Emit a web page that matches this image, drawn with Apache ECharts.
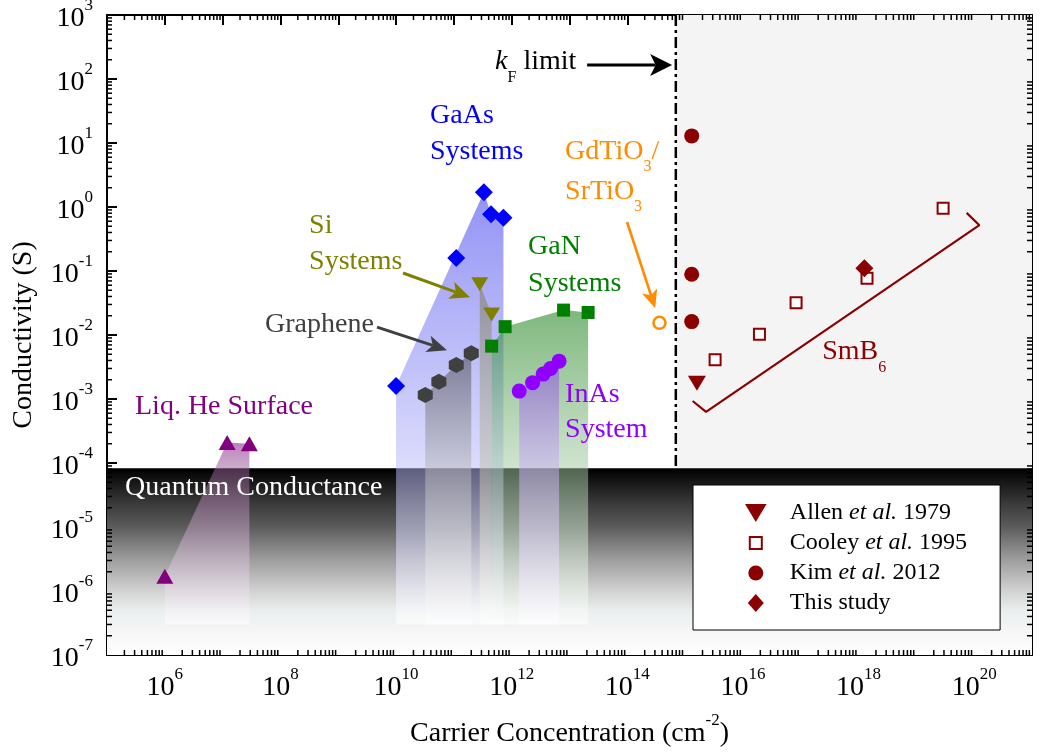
<!DOCTYPE html>
<html>
<head>
<meta charset="utf-8">
<script src="https://cdn.jsdelivr.net/npm/echarts@6/dist/echarts.min.js"></script>
<style>
  html, body { margin: 0; padding: 0; background: #fff; }
  #chart { width: 1045px; height: 753px; }
</style>
</head>
<body>
<div id="chart"></div>
<script>
const FONT = '"Liberation Serif", "Times New Roman", serif';

// ---- sheet carrier concentration n (cm^-2) and conductivity (S) per system ----
const gaasN = [1.0e10, 1.1e11, 3.3e11, 4.4e11, 7.2e11];
const gaasS = [1.6e-3, 0.16, 1.7, 0.77, 0.68];
const siN = [2.8e11, 4.5e11];
const siS = [0.062, 0.021];
const grapheneN = [3.2e10, 5.5e10, 1.1e11, 2.0e11];
const grapheneS = [1.15e-3, 1.86e-3, 3.4e-3, 5.2e-3];
const ganN = [4.5e11, 7.7e11, 7.9e12, 2.1e13];
const ganS = [6.7e-3, 0.0135, 0.0245, 0.0225];
const inasN = [1.35e12, 2.3e12, 3.5e12, 4.7e12, 6.6e12];
const inasS = [1.33e-3, 1.8e-3, 2.45e-3, 3.0e-3, 3.9e-3];
const heN = [1.0e6, 1.2e7, 2.9e7];
const heS = [1.7e-6, 2.1e-4, 2.0e-4];
const gdtoN = [3.6e14];
const gdtoS = [0.0155];

// SmB6 surface data
const allenN = [1.6e15];
const allenS = [1.76e-3];
const cooleyN = [3.3e15, 1.93e16, 8.3e16, 1.4e18, 2.9e19];
const cooleyS = [4.1e-3, 0.0103, 0.032, 0.077, 0.955];
const kimN = [1.3e15, 1.3e15, 1.3e15];
const kimS = [12.9, 0.089, 0.0162];
const thisStudyN = [1.26e18];
const thisStudyS = [0.11];
const smb6RangeN = [1.35e15, 2.3e15, 1.23e20, 7.4e19];
const smb6RangeS = [9.3e-4, 6.3e-4, 0.52, 0.81];

// reference levels
const kFLimitN = 6.9e14;     // kF limit
const quantumS = 8.3e-5;     // quantum conductance
const fadeFloorS = 3e-7;     // where the shaded columns fade out

// axis extents in decades
const xDecades = [5, 21];
const yDecades = [-7, 3];

const lg = Math.log10;
const toXY = (ns, ss) => ns.map((n, i) => [lg(n), lg(ss[i])]);

// ---- shaded areas under each material system ----
const regions = [
  { n: [gaasN[0], gaasN[2], gaasN[3], gaasN[4]], s: [gaasS[0], gaasS[2], gaasS[3], gaasS[4]],
    top: 'rgba(40,40,235,0.5)', mid: 'rgba(186,186,250,0.5)' },
  { n: grapheneN, s: grapheneS, top: 'rgba(60,60,60,0.5)', mid: 'rgba(182,182,186,0.5)' },
  { n: siN, s: siS, top: 'rgba(120,120,70,0.5)', mid: 'rgba(190,190,172,0.5)' },
  { n: ganN, s: ganS, top: 'rgba(20,125,20,0.55)', mid: 'rgba(160,200,160,0.5)' },
  { n: inasN, s: inasS, top: 'rgba(140,60,235,0.5)', mid: 'rgba(200,172,245,0.5)' },
  { n: heN, s: heS, top: 'rgba(128,0,128,0.5)', mid: 'rgba(150,95,150,0.5)' }
];

// ---- text annotations (anchor = left edge, vertical centre) ----
// sub: subscript drop below the main text centre
const notes = [
  { text: 'GaAs\nSystems', at: [3.87e10, 13.8], color: '#0000ff', lh: 36 },
  { text: 'Si\nSystems', at: [3.13e8, 0.264], color: '#808000', lh: 36 },
  { text: 'GaN\nSystems', at: [1.92e12, 0.122], color: '#008000', lh: 37 },
  { text: 'Graphene', at: [5.42e7, 0.0143], color: '#404040', lh: 28 },
  { text: 'InAs\nSystem', at: [8.39e12, 6.15e-4], color: '#8f00ff', lh: 35 },
  { text: 'Liq. He Surface', at: [3.05e5, 7.5e-4], color: '#800080', lh: 28 },
  { text: 'Quantum Conductance', at: [2.05e5, 4.07e-5], color: '#ffffff', lh: 28 },
  { text: '{m|GdTiO}{s|3}{m|/}\n{m|SrTiO}{s|3}', at: [8.39e12, 3.52], color: '#ff8c00', lh: 40, sub: 15 },
  { text: '{m|SmB}{s|6}', at: [2.35e17, 5.42e-3], color: '#8b0000', lh: 28, sub: 16 },
  { text: '{k|k}{s|F}{m| limit}', at: [5.16e11, 187.5], color: '#000000', lh: 28, sub: 16 }
];

// ---- annotation arrows ----
const arrows = [
  { from: [2.02e13, 165], to: [5.96e14, 165], color: '#000000', width: 3, head: [22, 11] },
  { from: [1.32e10, 0.093], to: [1.9e11, 0.039], color: '#808000', width: 3, head: [20, 9] },
  { from: [4.69e9, 0.0133], to: [7.6e10, 5.8e-3], color: '#404040', width: 3, head: [20, 8.5] },
  { from: [9.9e13, 0.583], to: [3.03e14, 0.0264], color: '#ff8c00', width: 2.6, head: [18, 8] }
];

function richFor(note) {
  const base = { fill: note.color, fontFamily: FONT, fontSize: 28, lineHeight: note.lh };
  return {
    m: base,
    k: Object.assign({}, base, { fontStyle: 'italic' }),
    s: {
      fill: note.color, fontFamily: FONT, fontSize: 16, lineHeight: 16, verticalAlign: 'top',
      padding: [note.lh / 2 + note.sub - 8, 0, 0, 0]
    }
  };
}

function renderBackdrop(params, api) {
  const cs = params.coordSys;
  const xK = api.coord([lg(kFLimitN), yDecades[0]])[0];
  const yQ = api.coord([xDecades[0], lg(quantumS)])[1];
  const yB = cs.y + cs.height;
  const band = new echarts.graphic.LinearGradient(0, yQ, 0, yB, [
    { offset: 0, color: '#000000' },
    { offset: 0.19, color: '#3a3a3a' },
    { offset: 0.31, color: '#5a5a5a' },
    { offset: 0.48, color: '#9a9a9a' },
    { offset: 0.65, color: '#d0d0d0' },
    { offset: 0.76, color: '#eaeeee' },
    { offset: 0.9, color: '#f8f8f8' },
    { offset: 1, color: '#ffffff' }
  ], true);
  return {
    type: 'group',
    children: [
      { type: 'rect', shape: { x: xK, y: cs.y, width: cs.x + cs.width - xK, height: yQ - cs.y }, style: { fill: '#f4f4f4' } },
      { type: 'rect', shape: { x: cs.x, y: yQ, width: cs.width, height: yB - yQ }, style: { fill: band } },
      { type: 'line', shape: { x1: xK, y1: cs.y, x2: xK, y2: yQ }, style: { stroke: '#000', lineWidth: 2.5, lineDash: [11, 4, 3, 4] } }
    ]
  };
}

function renderRegion(params, api) {
  const r = regions[params.dataIndex];
  const pts = r.n.map((n, i) => api.coord([lg(n), lg(r.s[i])]));
  const first = r.n[0], last = r.n[r.n.length - 1];
  pts.push(api.coord([lg(last), lg(fadeFloorS)]));
  pts.push(api.coord([lg(first), lg(fadeFloorS)]));
  const yTop = Math.min.apply(null, pts.map(p => p[1]));
  const yBot = pts[pts.length - 1][1];
  const yQ = api.coord([lg(first), lg(quantumS)])[1];
  const off = Math.min(1, Math.max(0, (yQ - yTop) / (yBot - yTop)));
  return {
    type: 'polygon',
    shape: { points: pts },
    style: {
      fill: new echarts.graphic.LinearGradient(0, yTop, 0, yBot, [
        { offset: 0, color: r.top },
        { offset: off, color: r.mid },
        { offset: 1, color: 'rgba(255,255,255,0.6)' }
      ], true)
    }
  };
}

function renderArrow(params, api) {
  const a = arrows[params.dataIndex];
  const p1 = api.coord([lg(a.from[0]), lg(a.from[1])]);
  const p2 = api.coord([lg(a.to[0]), lg(a.to[1])]);
  const dx = p2[0] - p1[0], dy = p2[1] - p1[1];
  const len = Math.sqrt(dx * dx + dy * dy);
  const ux = dx / len, uy = dy / len, nx = -uy, ny = ux;
  const hl = a.head[0], hw = a.head[1], notch = hl * 0.25;
  const bx = p2[0] - ux * hl, by = p2[1] - uy * hl;
  const mx = p2[0] - ux * (hl - notch), my = p2[1] - uy * (hl - notch);
  return {
    type: 'group',
    children: [
      { type: 'line', shape: { x1: p1[0], y1: p1[1], x2: mx, y2: my }, style: { stroke: a.color, lineWidth: a.width } },
      { type: 'polygon', shape: { points: [[p2[0], p2[1]], [bx + nx * hw, by + ny * hw], [mx, my], [bx - nx * hw, by - ny * hw]] }, style: { fill: a.color } }
    ]
  };
}

function renderNote(params, api) {
  const a = notes[params.dataIndex];
  const p = api.coord([lg(a.at[0]), lg(a.at[1])]);
  const style = {
    text: a.text, x: p[0], y: p[1],
    fill: a.color, fontFamily: FONT, fontSize: 28, lineHeight: a.lh,
    textAlign: 'left', textVerticalAlign: 'middle'
  };
  if (a.sub != null) style.rich = richFor(a);
  return { type: 'text', style: style };
}

// log-spaced minor ticks on all four sides of the frame
function renderMinorTicks(params, api) {
  const cs = params.coordSys;
  const left = cs.x, right = cs.x + cs.width, top = cs.y, bottom = cs.y + cs.height;
  const len = 5;
  const kids = [];
  const st = () => ({ stroke: '#000', lineWidth: 1.5 });
  for (let d = xDecades[0]; d < xDecades[1]; d++) {
    for (let k = 2; k < 10; k++) {
      const x = api.coord([d + lg(k), yDecades[0]])[0];
      kids.push({ type: 'line', shape: { x1: x, y1: bottom, x2: x, y2: bottom - len }, style: st() });
      kids.push({ type: 'line', shape: { x1: x, y1: top, x2: x, y2: top + len }, style: st() });
    }
  }
  for (let d = yDecades[0]; d < yDecades[1]; d++) {
    for (let k = 2; k < 10; k++) {
      const y = api.coord([xDecades[0], d + lg(k)])[1];
      kids.push({ type: 'line', shape: { x1: left, y1: y, x2: left + len, y2: y }, style: st() });
      kids.push({ type: 'line', shape: { x1: right, y1: y, x2: right - len, y2: y }, style: st() });
    }
  }
  return { type: 'group', children: kids };
}

// "10" with a raised exponent
const tickRich = {
  b: { fontFamily: FONT, fontSize: 28, color: '#000', lineHeight: 36, padding: [7, 0, 0, 0] },
  e: { fontFamily: FONT, fontSize: 17, color: '#000', lineHeight: 17, verticalAlign: 'top' }
};
const powLabel = v => '{b|10}{e|' + v + '}';

const frameLine = { show: true, onZero: false, lineStyle: { color: '#000', width: 2 } };
const frameTick = { show: true, inside: true, length: 10, lineStyle: { color: '#000', width: 2 } };

function scatter(name, ns, ss, symbol, size, itemStyle) {
  return {
    type: 'scatter', name: name, data: toXY(ns, ss), symbol: symbol, symbolSize: size,
    itemStyle: Object.assign({ opacity: 1 }, itemStyle), z: 4, silent: true
  };
}

const triDown = 'path://M0,0L18,0L9,15Z';
const triUp = 'path://M9,0L18,15L0,15Z';
const hexagon = 'path://M8,0L15,4L15,12L8,16L1,12L1,4Z';
const smb6 = '#8b0000';

const option = {
  animation: false,
  backgroundColor: '#ffffff',
  grid: { left: 107, right: 13, top: 15, bottom: 98, containLabel: false, outerBoundsMode: 'none' },
  xAxis: [
    {
      type: 'value', min: xDecades[0], max: xDecades[1], interval: 1,
      axisLine: frameLine, axisTick: frameTick, splitLine: { show: false },
      axisLabel: {
        margin: 11, formatter: v => (v % 2 === 0 ? powLabel(v) : ''), rich: tickRich,
        fontFamily: FONT, fontSize: 28, color: '#000'
      },
      name: '{b|Carrier Concentration (cm}{e|-2}{b|)}', nameLocation: 'middle', nameGap: 57,
      nameTextStyle: { fontFamily: FONT, fontSize: 28, color: '#000', rich: tickRich }
    },
    {
      type: 'value', position: 'top', min: xDecades[0], max: xDecades[1], interval: 1,
      axisLine: frameLine, axisTick: frameTick, axisLabel: { show: false }, splitLine: { show: false }
    }
  ],
  yAxis: [
    {
      type: 'value', min: yDecades[0], max: yDecades[1], interval: 1,
      axisLine: frameLine, axisTick: frameTick, splitLine: { show: false },
      axisLabel: { margin: 14, formatter: powLabel, rich: tickRich, fontFamily: FONT, fontSize: 28, color: '#000' },
      name: 'Conductivity (S)', nameLocation: 'middle', nameGap: 69,
      nameTextStyle: { fontFamily: FONT, fontSize: 28, color: '#000' }
    },
    {
      type: 'value', position: 'right', min: yDecades[0], max: yDecades[1], interval: 1,
      axisLine: frameLine, axisTick: frameTick, axisLabel: { show: false }, splitLine: { show: false }
    }
  ],
  legend: {
    data: [
      { name: 'Allen et al. 1979' },
      { name: 'Cooley et al. 1995', icon: 'path://M0,0M18,18M3,3L15,3L15,15L3,15Z' },
      { name: 'Kim et al. 2012', icon: 'path://M0,0M18,18M9,1.5A7.5,7.5,0,1,1,8.99,1.5Z' },
      { name: 'This study', icon: 'path://M0,0M18,18M9,0L17,9L9,18L1,9Z' }
    ],
    orient: 'vertical', left: 693, top: 485,
    padding: [16, 33, 15, 52],
    itemWidth: 58, itemHeight: 18, itemGap: 6,
    backgroundColor: '#ffffff', borderColor: '#000000', borderWidth: 1, borderRadius: 0,
    selectedMode: false, z: 10,
    textStyle: {
      fontFamily: FONT, fontSize: 24, color: '#000', lineHeight: 24,
      rich: { i: { fontFamily: FONT, fontSize: 24, color: '#000', lineHeight: 24, fontStyle: 'italic' } }
    },
    formatter: name => name.replace('et al.', '{i|et al.}')
  },
  series: [
    { type: 'custom', name: 'backdrop', renderItem: renderBackdrop, data: [[lg(kFLimitN), lg(quantumS)]], z: 1, silent: true },
    { type: 'custom', name: 'regions', renderItem: renderRegion, data: regions.map(r => [lg(r.n[0]), lg(r.s[0])]), z: 2, silent: true },
    {
      type: 'line', name: 'SmB6 range', data: toXY(smb6RangeN, smb6RangeS), symbol: 'none', showSymbol: false,
      lineStyle: { color: smb6, width: 2.2, opacity: 1 }, z: 3, silent: true
    },
    scatter('GaAs', gaasN, gaasS, 'diamond', [18, 18], { color: '#0000ff' }),
    scatter('Graphene', grapheneN, grapheneS, hexagon, [15, 16], { color: '#404040' }),
    scatter('Si', siN, siS, triDown, [17, 14], { color: '#808000' }),
    scatter('GaN', ganN, ganS, 'rect', [13, 13], { color: '#008000' }),
    scatter('InAs', inasN, inasS, 'circle', 15, { color: '#8f00ff' }),
    scatter('Liq. He', heN, heS, triUp, [17, 15], { color: '#800080' }),
    scatter('GdTiO3/SrTiO3', gdtoN, gdtoS, 'circle', 12, { color: '#ffffff', borderColor: '#ff8c00', borderWidth: 2.5 }),
    scatter('Allen et al. 1979', allenN, allenS, triDown, [18, 15], { color: smb6 }),
    scatter('Cooley et al. 1995', cooleyN, cooleyS, 'rect', [11, 11], { color: '#ffffff', borderColor: smb6, borderWidth: 2 }),
    scatter('Kim et al. 2012', kimN, kimS, 'circle', 15, { color: smb6 }),
    scatter('This study', thisStudyN, thisStudyS, 'diamond', [18, 18], { color: smb6 }),
    { type: 'custom', name: 'arrows', renderItem: renderArrow, data: arrows.map(a => [lg(a.to[0]), lg(a.to[1])]), z: 5, silent: true },
    { type: 'custom', name: 'notes', renderItem: renderNote, data: notes.map(a => [lg(a.at[0]), lg(a.at[1])]), z: 5, silent: true },
    { type: 'custom', name: 'minor ticks', renderItem: renderMinorTicks, data: [[xDecades[0], yDecades[0]]], z: 6, silent: true }
  ]
};

const chart = echarts.init(document.getElementById('chart'), null, { renderer: 'canvas' });
chart.setOption(option);
</script>
</body>
</html>
